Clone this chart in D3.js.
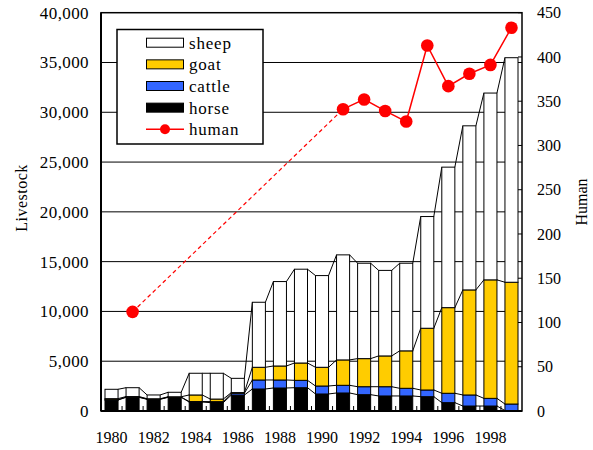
<!DOCTYPE html>
<html><head><meta charset="utf-8">
<script src="https://cdn.jsdelivr.net/npm/d3@7"></script>
<style>
body{margin:0;background:#fff;}
svg text{font-family:"Liberation Serif",serif;fill:#000;}
</style></head>
<body><svg id="chart" width="593" height="450"></svg>
<script>
const years  = [1980,1981,1982,1983,1984,1985,1986,1987,1988,1989,1990,1991,1992,1993,1994,1995,1996,1997,1998,1999];
const horse  = [1100,1370,1170,1370,900,840,1600,2210,2310,2340,1710,1810,1640,1510,1510,1440,840,500,500,50];
const cattle = [30,30,30,30,50,100,180,905,805,740,800,770,800,930,770,670,940,1110,770,650];
const goat   = [110,50,30,30,660,260,70,1275,1405,1740,1880,2550,2820,3090,3760,6200,8600,10550,11900,12230];
const sheep  = [940,890,380,450,2180,2590,1430,6530,8480,9420,9210,10550,9580,8590,8800,11220,14110,16480,18760,22550];
const human  = [null,112,null,null,null,null,null,null,null,null,null,341,352,339,327,413,367,381,391,433];
const leftTicks  = [0,5000,10000,15000,20000,25000,30000,35000,40000];
const rightTicks = [0,50,100,150,200,250,300,350,400,450];
const xLabelYears = [1980,1982,1984,1986,1988,1990,1992,1994,1996,1998];
const seriesNames = ["horse","cattle","goat","sheep"];
const seriesColors = {horse:"#000000",cattle:"#3366FF",goat:"#FFCC00",sheep:"#FFFFFF"};

const FONT = "'Liberation Serif', serif";
const svg = d3.select("#chart");
const L=101, R=522, T=12.7, B=411;
const x = d3.scaleBand().domain(years).range([L,R]).paddingInner(0.38).paddingOuter(0.19);
const xc = d => x(d)+x.bandwidth()/2;
const y = d3.scaleLinear().domain([0,40000]).range([B,T]);
const y2 = d3.scaleLinear().domain([0,450]).range([B,T]);

// gridlines
svg.append("g").selectAll("line").data(leftTicks.filter(v=>v>0&&v<40000)).join("line")
  .attr("x1",L).attr("x2",R).attr("y1",d=>y(d)).attr("y2",d=>y(d))
  .attr("stroke","#000").attr("stroke-width",1);

// stacked data
const table = years.map((yr,i)=>({year:yr,horse:horse[i],cattle:cattle[i],goat:goat[i],sheep:sheep[i]}));
const stack = d3.stack().keys(seriesNames)(table);

// series lines
stack.forEach(s=>{
  for(let i=0;i<s.length-1;i++){
    svg.append("line")
      .attr("x1",x(years[i])+x.bandwidth()).attr("y1",y(s[i][1]))
      .attr("x2",x(years[i+1])).attr("y2",y(s[i+1][1]))
      .attr("stroke","#000").attr("stroke-width",1);
  }
});

// bars
stack.forEach(s=>{
  svg.append("g").selectAll("rect").data(s).join("rect")
    .attr("x",d=>x(d.data.year)).attr("width",x.bandwidth())
    .attr("y",d=>y(d[1])).attr("height",d=>Math.max(0,y(d[0])-y(d[1])))
    .attr("fill",seriesColors[s.key]).attr("stroke","#000").attr("stroke-width",1);
});

// category tick marks on bottom axis (inward)
const step = x.step();
const b0 = x(years[0]) - x.paddingInner()*step/2;
svg.append("g").selectAll("line").data(d3.range(1,years.length)).join("line")
  .attr("x1",d=>b0 + d*step).attr("x2",d=>b0 + d*step)
  .attr("y1",B).attr("y2",B-5).attr("stroke","#000").attr("stroke-width",1);

// frame
svg.append("rect").attr("x",L).attr("y",T).attr("width",R-L).attr("height",B-T)
  .attr("fill","none").attr("stroke","#000").attr("stroke-width",1.5);
svg.append("line").attr("x1",L).attr("x2",L).attr("y1",T).attr("y2",B).attr("stroke","#000").attr("stroke-width",2);
svg.append("line").attr("x1",L).attr("x2",R).attr("y1",B).attr("y2",B).attr("stroke","#000").attr("stroke-width",2);

// left axis labels
const fmt = d3.format(",");
svg.append("g").selectAll("text").data(leftTicks).join("text")
  .attr("font-family",FONT)
  .attr("x",89).attr("y",d=>y(d)).attr("dy","0.35em").attr("text-anchor","end")
  .attr("font-size",17).attr("letter-spacing","0.4px").text(d=>fmt(d));

// right axis ticks & labels
svg.append("g").selectAll("line").data(rightTicks).join("line")
  .attr("x1",R).attr("x2",R-4).attr("y1",d=>y2(d)).attr("y2",d=>y2(d))
  .attr("stroke","#000").attr("stroke-width",1);
svg.append("g").selectAll("text").data(rightTicks).join("text")
  .attr("font-family",FONT)
  .attr("x",537).attr("y",d=>y2(d)).attr("dy","0.35em").attr("text-anchor","start")
  .attr("font-size",16).text(d=>d);

// x labels
svg.append("g").selectAll("text").data(xLabelYears).join("text")
  .attr("font-family",FONT)
  .attr("x",d=>xc(d)).attr("y",443).attr("text-anchor","middle")
  .attr("font-size",16).text(d=>d);

// axis titles
svg.append("text").attr("font-family",FONT).attr("transform","translate(27,198) rotate(-90)").attr("text-anchor","middle")
  .attr("font-size",16).attr("letter-spacing","0.5px").text("Livestock");
svg.append("text").attr("font-family",FONT).attr("transform","translate(587,202) rotate(-90)").attr("text-anchor","middle")
  .attr("font-size",16).text("Human");

// human line
const pts = years.map((yr,i)=>({year:yr,v:human[i]}));
const line = d3.line().defined(d=>d.v!=null).x(d=>xc(d.year)).y(d=>y2(d.v));
const valid = pts.filter(d=>d.v!=null);
for(let i=0;i<valid.length-1;i++){
  const a=valid[i], b=valid[i+1];
  if(years.indexOf(b.year)-years.indexOf(a.year)>1){
    svg.append("path").attr("d",d3.line().x(d=>xc(d.year)).y(d=>y2(d.v))([a,b]))
      .attr("fill","none").attr("stroke","#FF0000").attr("stroke-width",1.2).attr("stroke-dasharray","4,3");
  }
}
svg.append("path").attr("d",line(pts)).attr("fill","none").attr("stroke","#FF0000").attr("stroke-width",1.5);
svg.append("g").selectAll("circle").data(valid).join("circle")
  .attr("cx",d=>xc(d.year)).attr("cy",d=>y2(d.v)).attr("r",6.3).attr("fill","#FF0000");

// legend
const lg = svg.append("g");
lg.append("rect").attr("x",117).attr("y",29.5).attr("width",146).attr("height",114.5)
  .attr("fill","#fff").attr("stroke","#000").attr("stroke-width",1.5);
const legendItems = ["sheep","goat","cattle","horse","human"];
legendItems.forEach((k,i)=>{
  const cy = 42.7 + i*21.65;
  if(k==="human"){
    lg.append("line").attr("x1",146).attr("x2",184).attr("y1",cy).attr("y2",cy).attr("stroke","#FF0000").attr("stroke-width",1.5);
    lg.append("circle").attr("cx",165).attr("cy",cy).attr("r",5).attr("fill","#FF0000");
  } else {
    lg.append("rect").attr("x",146.5).attr("y",cy-4.5).attr("width",37).attr("height",9)
      .attr("fill",seriesColors[k]).attr("stroke","#000").attr("stroke-width",1);
  }
  lg.append("text").attr("font-family",FONT).attr("x",189).attr("y",cy).attr("dy","0.35em").attr("font-size",17)
    .attr("letter-spacing","0.8px").text(k);
});
</script></body></html>
